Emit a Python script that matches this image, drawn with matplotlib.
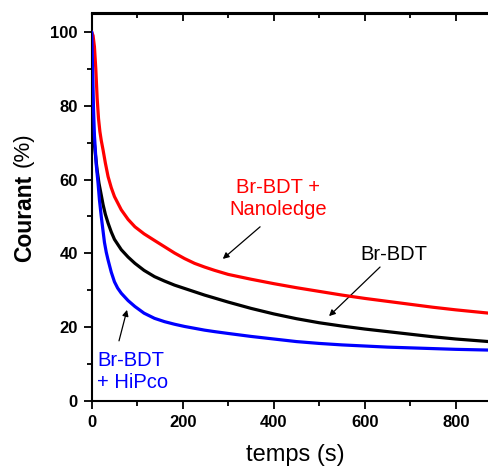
import matplotlib
matplotlib.use("Agg")
import matplotlib.pyplot as plt
from matplotlib.ticker import MultipleLocator

plt.rcParams['font.family'] = ['Liberation Sans', 'DejaVu Sans']

# time (s) / current (%)
t_red = [0, 3, 6, 9, 12, 15, 18, 21, 25, 30, 36, 43, 50, 65, 80, 95, 115, 138, 160, 182,
         204, 226, 248, 270, 300, 350, 400, 450, 500, 550, 600, 650, 700, 750, 800, 873]
red = [100, 99, 96, 90, 82, 76.5, 73, 70.6, 68, 64.5, 60.8, 57.8, 55.4, 51.8, 49.2, 47.2,
       45.3, 43.5, 41.8, 40.1, 38.6, 37.3, 36.3, 35.4, 34.3, 33, 31.8, 30.7, 29.7, 28.7,
       27.8, 27, 26.2, 25.4, 24.7, 23.8]

t_black = [0, 4, 8, 12, 16, 21, 25, 30, 36, 43, 50, 65, 80, 95, 115, 138, 160, 182,
           204, 226, 248, 270, 300, 350, 400, 450, 500, 550, 600, 650, 700, 750, 800, 873]
black = [76, 72, 67, 62.5, 59, 55.8, 53.2, 50.6, 48.2, 45.8, 43.8, 41, 39, 37.3, 35.4,
         33.7, 32.5, 31.4, 30.5, 29.6, 28.7, 27.9, 26.8, 25.1, 23.6, 22.3, 21.2, 20.3, 19.5,
         18.8, 18.1, 17.4, 16.8, 16.1]

t_blue = [0, 2, 4, 6, 10, 14, 17, 21, 25, 28, 32, 36, 43, 50, 57, 65, 80, 95, 115, 138,
          160, 182, 204, 226, 248, 270, 300, 350, 400, 450, 500, 550, 600, 650, 700,
          750, 800, 873]
blue = [100, 90, 79, 72, 64, 59, 54.5, 50, 46, 43, 40.3, 38.2, 34.9, 32.3, 30.6, 29.2,
        27.2, 25.6, 23.8, 22.4, 21.5, 20.8, 20.2, 19.7, 19.2, 18.8, 18.3, 17.5, 16.8, 16.1,
        15.6, 15.2, 14.9, 14.6, 14.4, 14.2, 14.0, 13.8]

W, H = 489, 472
fig = plt.figure(figsize=(W / 100, H / 100), dpi=100)
ax = fig.add_axes([91.7 / W, 1 - 401 / H, 1 - 91.7 / W, (401 - 13.5) / H])

style = dict(lw=2.3, solid_joinstyle='round', solid_capstyle='round')
ax.plot(t_black, black, color='black', zorder=3, **style)
ax.plot(t_red, red, color='#ff0000', zorder=4, **style)
ax.plot(t_blue, blue, color='#0000ff', zorder=5, **style)

ax.set_xlim(0, 873)
ax.set_ylim(0, 105)
ax.xaxis.set_major_locator(MultipleLocator(200))
ax.xaxis.set_minor_locator(MultipleLocator(100))
ax.yaxis.set_major_locator(MultipleLocator(20))
ax.yaxis.set_minor_locator(MultipleLocator(10))

for s in ['left', 'bottom', 'top']:
    ax.spines[s].set_linewidth(1.5)
ax.spines['right'].set_visible(False)

ax.tick_params(which='major', direction='out', length=6, width=1.3, pad=4,
               labelsize=12)
ax.tick_params(which='minor', direction='out', length=3.5, width=1.3)
for lab in ax.get_xticklabels() + ax.get_yticklabels():
    lab.set_fontweight('bold')

sec = ax.secondary_xaxis('top')
sec.xaxis.set_major_locator(MultipleLocator(200))
sec.xaxis.set_minor_locator(MultipleLocator(100))
sec.tick_params(which='major', direction='in', length=6, width=1.3, labeltop=False)
sec.tick_params(which='minor', direction='in', length=3.5, width=1.3)
sec.spines['top'].set_linewidth(1.5)

fig.text(295 / W, 1 - 455 / H, 'temps (s)', fontsize=17, ha='center', va='center')
fig.text(25 / W, 1 - 218 / H, 'Courant', fontsize=16.5, fontweight='bold',
         rotation=90, ha='center', va='center')
fig.text(23 / W, 1 - 150 / H, '(%)', fontsize=16, rotation=90, ha='center', va='center')

arrow = dict(arrowstyle='-|>', color='black', lw=0.9, mutation_scale=9,
             shrinkA=0, shrinkB=0)
ax.annotate('', xy=(521.5, 23.0), xytext=(633.6, 36.3), arrowprops=arrow)
ax.annotate('', xy=(288, 38.5), xytext=(370, 47.2), arrowprops=arrow)
ax.annotate('', xy=(77.6, 24.7), xytext=(60, 16.3), arrowprops=arrow)

ax.text(663, 39.8, 'Br-BDT', fontsize=14.5, color='black', ha='center', va='center')
ax.text(410, 55, 'Br-BDT +\nNanoledge', fontsize=14.5, color='#ff0000',
        ha='center', va='center', multialignment='center', linespacing=1.2)
ax.text(11.6, 7.9, 'Br-BDT\n+ HiPco', fontsize=14.5, color='#0000ff',
        ha='left', va='center', multialignment='left', linespacing=1.2)

fig.savefig('out.png', dpi=100)
